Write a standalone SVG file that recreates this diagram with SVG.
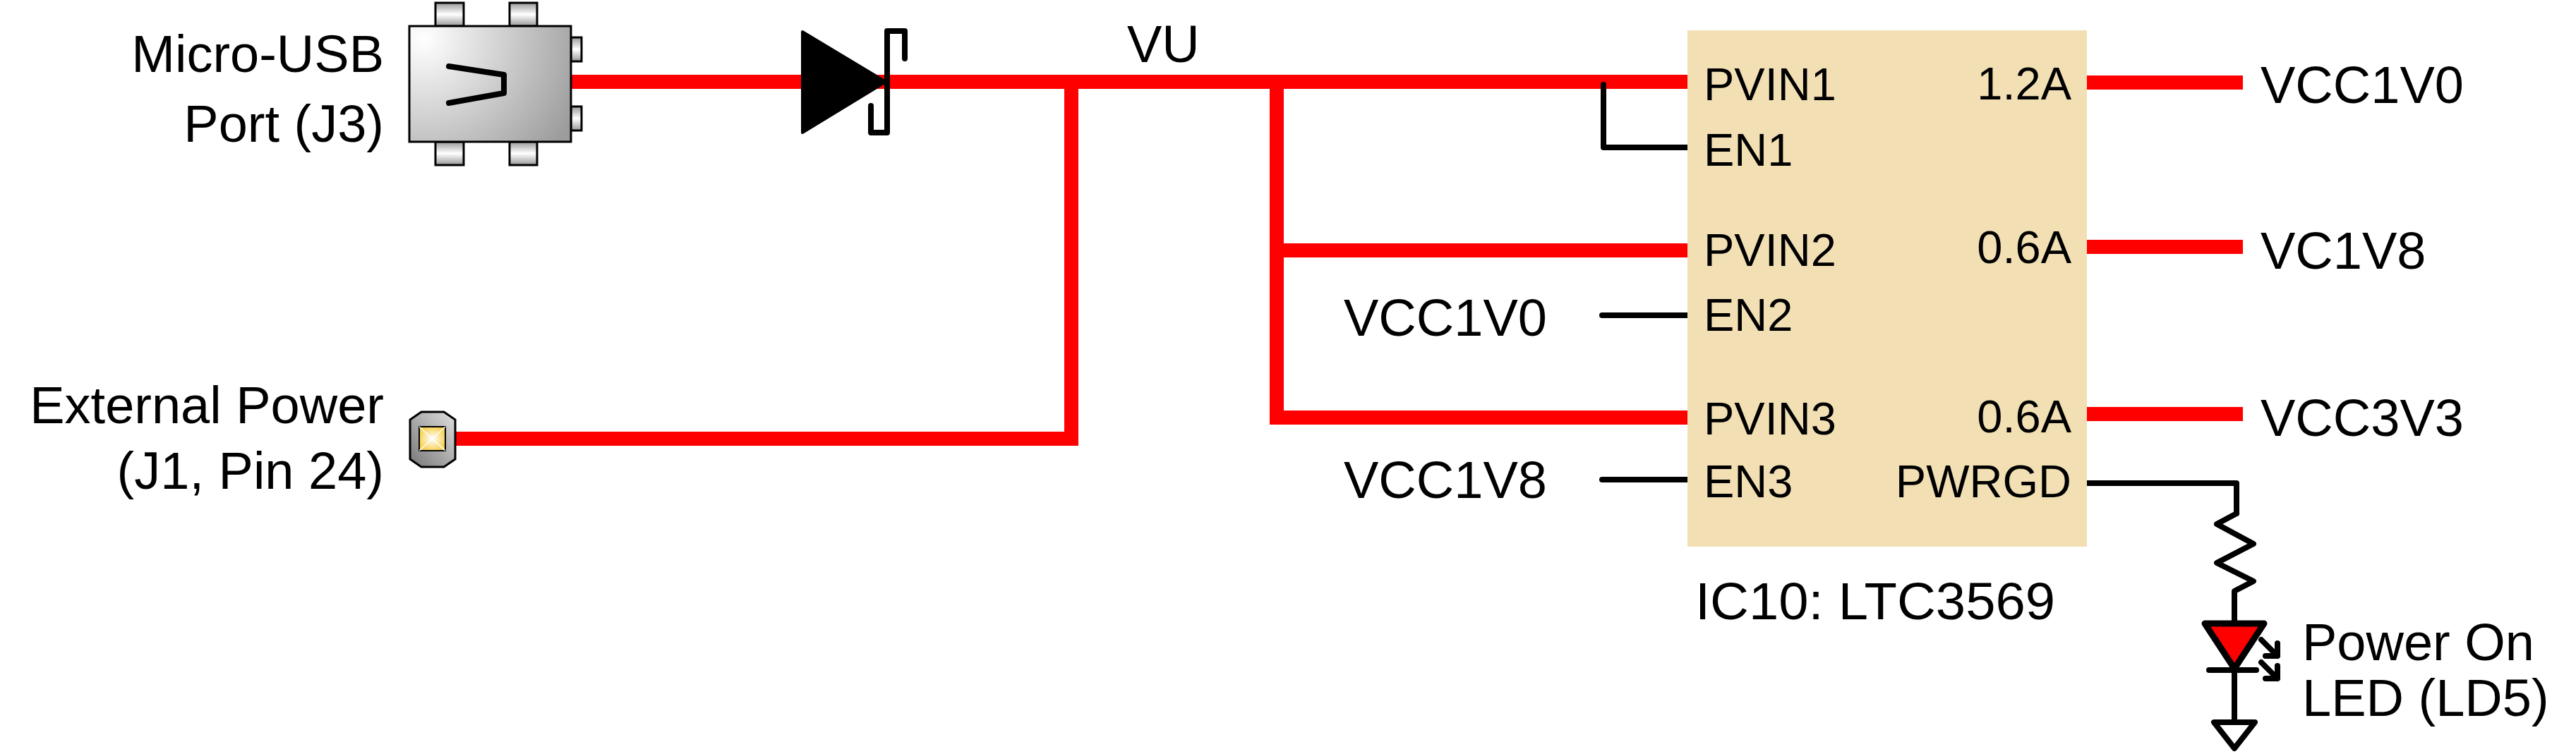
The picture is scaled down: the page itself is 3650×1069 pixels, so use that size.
<svg xmlns="http://www.w3.org/2000/svg" width="3650" height="1069" viewBox="0 0 3650 1069">
<style>
text{font-family:"Liberation Sans",Arial,sans-serif;fill:#000}
.o{font-size:74px}
.i{font-size:65px}
.e{text-anchor:end}
.r{fill:none;stroke:#f00;stroke-width:20}
.k{fill:none;stroke:#000;stroke-width:8;stroke-linejoin:round;stroke-linecap:round}
.t{stroke:#000;stroke-width:3}
</style>
<defs>
<radialGradient id="b" gradientUnits="userSpaceOnUse" cx="600" cy="55" r="240"><stop offset="0" stop-color="#fff"/><stop offset="1" stop-color="#9c9c9c"/></radialGradient>
<linearGradient id="tv" x1="0" y1="0" x2="0" y2="1"><stop offset="0" stop-color="#999"/><stop offset=".5" stop-color="#fff"/><stop offset="1" stop-color="#999"/></linearGradient>
<linearGradient id="p" x1="0" y1="1" x2="1" y2="0"><stop offset="0" stop-color="#777"/><stop offset="1" stop-color="#e0e0e0"/></linearGradient>
<radialGradient id="y"><stop offset="0" stop-color="#fff"/><stop offset="1" stop-color="#f8d35a"/></radialGradient>
</defs>
<g id="connectors">
<path class="r" d="M809 116H2391M1518 116V622H645M1809 116V592H2391M1809 355H2391M2957 117H3178M2957 350H3178M2957 587H3178"/>
<path class="k" d="M2272 120V209H2391M2270 447H2391M2270 680H2391M2952 685H3169V728"/>
</g>
<g id="usb">
<rect class="t" x="617" y="4" width="40" height="33" fill="url(#tv)"/>
<rect class="t" x="722" y="4" width="39" height="33" fill="url(#tv)"/>
<rect class="t" x="617" y="201" width="40" height="33" fill="url(#tv)"/>
<rect class="t" x="722" y="201" width="39" height="33" fill="url(#tv)"/>
<rect class="t" x="809" y="53" width="15" height="34" fill="url(#tv)"/>
<rect class="t" x="809" y="151" width="15" height="34" fill="url(#tv)"/>
<rect class="t" x="580" y="37" width="229" height="164" fill="url(#b)"/>
<path class="k" d="M636 94L714 106V132L636 146"/>
<text class="o e" x="544" y="102">Micro-USB</text>
<text class="o e" x="544" y="201">Port (J3)</text>
</g>
<g id="diode">
<path d="M1137 45L1255 116L1137 188Z" stroke="#000" stroke-width="4" stroke-linejoin="round"/>
<path class="k" d="M1282 83V44H1257V188H1234V150"/>
</g>
<g id="external-power">
<path d="M597 584H629L645 595V651L629 662H597L581 651V595Z" fill="url(#p)" stroke="#000" stroke-width="3"/>
<rect x="594" y="605" width="37" height="34" fill="url(#y)" stroke="#000" stroke-width="2"/>
<path d="M594 605L631 639M631 605L594 639" stroke="#fff" stroke-width="1.5"/>
<text class="o e" x="544" y="600">External Power</text>
<text class="o e" x="544" y="693">(J1, Pin 24)</text>
</g>
<text class="o" x="1597" y="88">VU</text>
<g id="ic10">
<rect x="2391" y="43" width="566" height="732" fill="#f2dfb4"/>
<text class="i" x="2414" y="142">PVIN1</text>
<text class="i" x="2414" y="235">EN1</text>
<text class="i" x="2414" y="377">PVIN2</text>
<text class="i" x="2414" y="469">EN2</text>
<text class="i" x="2414" y="616">PVIN3</text>
<text class="i" x="2414" y="705">EN3</text>
<text class="i e" x="2935" y="141">1.2A</text>
<text class="i e" x="2935" y="373">0.6A</text>
<text class="i e" x="2935" y="613">0.6A</text>
<text class="i e" x="2935" y="705">PWRGD</text>
<text class="o" x="2402" y="878" textLength="510" lengthAdjust="spacingAndGlyphs">IC10: LTC3569</text>
</g>
<g id="labels">
<text class="o" x="1904" y="476">VCC1V0</text>
<text class="o" x="1904" y="706">VCC1V8</text>
<text class="o" x="3203" y="146">VCC1V0</text>
<text class="o" x="3203" y="381">VC1V8</text>
<text class="o" x="3203" y="618">VCC3V3</text>
</g>
<g id="led">
<path class="k" d="M3169 728L3141 743L3193 771L3141 798L3193 824L3166 838V884M3166 950V1023"/>
<path d="M3124 884H3208L3166 948Z" fill="#f00" stroke="#000" stroke-width="9" stroke-linejoin="round"/>
<path class="k" d="M3130 950H3197"/>
<path d="M3137 1024H3195L3166 1061Z" fill="#fff" stroke="#000" stroke-width="8" stroke-linejoin="round"/>
<path class="k" stroke-width="6" d="M3204 907L3227 930M3227 912V930H3210M3204 939L3227 962M3227 944V962H3210"/>
<text class="o" x="3262" y="936">Power On</text>
<text class="o" x="3262" y="1015">LED (LD5)</text>
</g>
</svg>
